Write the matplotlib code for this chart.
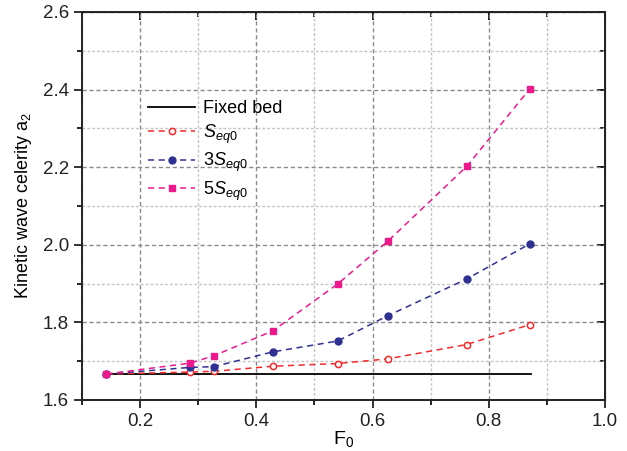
import matplotlib
matplotlib.use("Agg")
import matplotlib.pyplot as plt
from matplotlib.ticker import MultipleLocator, NullFormatter

plt.rcParams["font.family"] = ["Liberation Sans", "DejaVu Sans"]
plt.rcParams["mathtext.fontset"] = "custom"
plt.rcParams["mathtext.rm"] = "Liberation Sans"
plt.rcParams["mathtext.it"] = "Liberation Sans:italic"

# F0 values of the computed points
F0 = [0.142, 0.286, 0.327, 0.428, 0.540, 0.626, 0.762, 0.870]
# kinetic wave celerity for the three bed slopes
a2_s1 = [1.667, 1.672, 1.674, 1.687, 1.694, 1.706, 1.743, 1.794]
a2_s3 = [1.667, 1.684, 1.686, 1.724, 1.752, 1.817, 1.912, 2.002]
a2_s5 = [1.667, 1.695, 1.714, 1.778, 1.899, 2.009, 2.202, 2.401]
# fixed bed reference
fixed_x = [0.142, 0.872]
fixed_y = [1.667, 1.667]

labels = ["Fixed bed", r"$S_{eq\mathit{0}}$", r"$3S_{eq\mathit{0}}$", r"$5S_{eq\mathit{0}}$"]

fig = plt.figure(figsize=(6.27, 4.51), dpi=100)
ax = fig.add_axes([0.1308, 0.1131, 0.8342, 0.8603])

ax.plot(fixed_x, fixed_y, color="black", lw=1.3, label=labels[0])
ax.plot(F0, a2_s1, "--", color="#f52a2a", lw=1.1, marker="o", ms=4.5,
        mfc="white", mec="#f52a2a", mew=1.1, label=labels[1], dashes=(4, 3))
ax.plot(F0, a2_s3, "--", color="#2e3192", lw=1.1, marker="o", ms=5,
        label=labels[2], dashes=(4, 3))
ax.plot(F0, a2_s5, "--", color="#ec198c", lw=1.1, marker="s", ms=5,
        label=labels[3], dashes=(4, 3))

ax.set_xlim(0.1, 1.0)
ax.set_ylim(1.6, 2.6)
ax.xaxis.set_major_locator(MultipleLocator(0.2))
ax.xaxis.set_minor_locator(MultipleLocator(0.1))
ax.yaxis.set_major_locator(MultipleLocator(0.2))
ax.yaxis.set_minor_locator(MultipleLocator(0.1))

ax.grid(which="major", color="#8a8a8a", ls=(0, (3, 2)), lw=1.0)
ax.grid(which="minor", color="#c4c4c4", ls=(0, (2, 1.5)), lw=1.0)
ax.set_axisbelow(True)

ax.tick_params(which="major", direction="out", length=6, width=1.3,
               labelsize=13.5, colors="#222222")
ax.tick_params(which="minor", direction="out", length=3.5, width=1.2)
for sp in ax.spines.values():
    sp.set_linewidth(1.4)
    sp.set_color("#222222")

# mirrored inward ticks on top and right
top = ax.secondary_xaxis("top")
top.xaxis.set_major_locator(MultipleLocator(0.2))
top.xaxis.set_minor_locator(MultipleLocator(0.1))
top.xaxis.set_major_formatter(NullFormatter())
top.tick_params(which="major", direction="in", length=6, width=1.3)
top.tick_params(which="minor", direction="in", length=3.5, width=1.2)
right = ax.secondary_yaxis("right")
right.yaxis.set_major_locator(MultipleLocator(0.2))
right.yaxis.set_minor_locator(MultipleLocator(0.1))
right.yaxis.set_major_formatter(NullFormatter())
right.tick_params(which="major", direction="in", length=6, width=1.3)
right.tick_params(which="minor", direction="in", length=3.5, width=1.2)

ax.set_xlabel(r"$\mathregular{F_0}$", fontsize=14, labelpad=-1)
ax.set_ylabel(r"Kinetic wave celerity $\mathregular{a_2}$", fontsize=13, labelpad=6)

ax.legend(loc="upper left", bbox_to_anchor=(0.113, 0.792), frameon=False,
          fontsize=13, handlelength=2.6, handletextpad=0.4, labelspacing=0.3,
          borderaxespad=0)

fig.savefig("out.png", dpi=100)
